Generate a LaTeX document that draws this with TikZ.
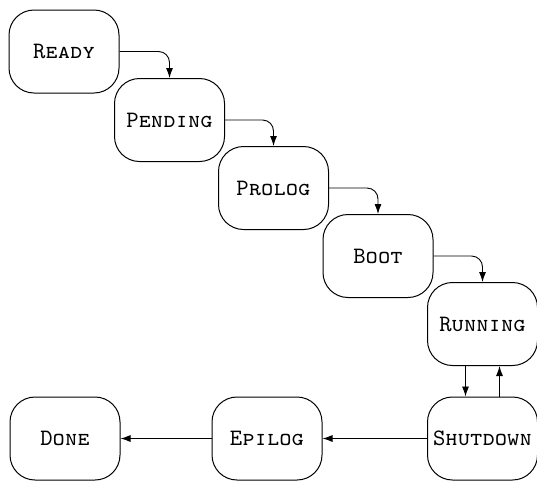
\documentclass[tikz,border=0pt]{standalone}
\usetikzlibrary{arrows.meta}
\begin{document}
\begin{tikzpicture}[x=1pt,y=-1pt,
  state/.style={draw,line width=1pt,rounded corners=25pt,minimum width=110pt,minimum height=83pt,
    inner sep=0pt,font=\fontsize{23.5}{28}\selectfont\ttfamily\scshape},
  flow/.style={draw,line width=0.9pt,-{Latex[length=10pt,width=7pt]}},
  stepflow/.style={flow,rounded corners=11pt}]
\useasboundingbox (0,0) rectangle (537,480);
\node[state] (ready)    at (64,51.5)   {Ready};
\node[state] (pending)  at (169.5,120) {Pending};
\node[state] (prolog)   at (273.5,188) {Prolog};
\node[state] (boot)     at (378,256)   {Boot};
\node[state] (running)  at (482.5,324) {Running};
\node[state] (shutdown) at (482.5,438.5) {Shutdown};
\node[state] (epilog)   at (267,438.5) {Epilog};
\node[state] (done)     at (65,438.5)  {Done};
\draw[stepflow] (ready.east) -| (pending.north);
\draw[stepflow] (pending.east) -| (prolog.north);
\draw[stepflow] (prolog.east) -| (boot.north);
\draw[stepflow] (boot.east) -| (running.north);
\draw[flow] ([xshift=-17pt]running.south) -- ([xshift=-17pt]shutdown.north);
\draw[flow] ([xshift=17pt]shutdown.north) -- ([xshift=17pt]running.south);
\draw[flow] (shutdown.west) -- (epilog.east);
\draw[flow] (epilog.west) -- (done.east);
\end{tikzpicture}
\end{document}
